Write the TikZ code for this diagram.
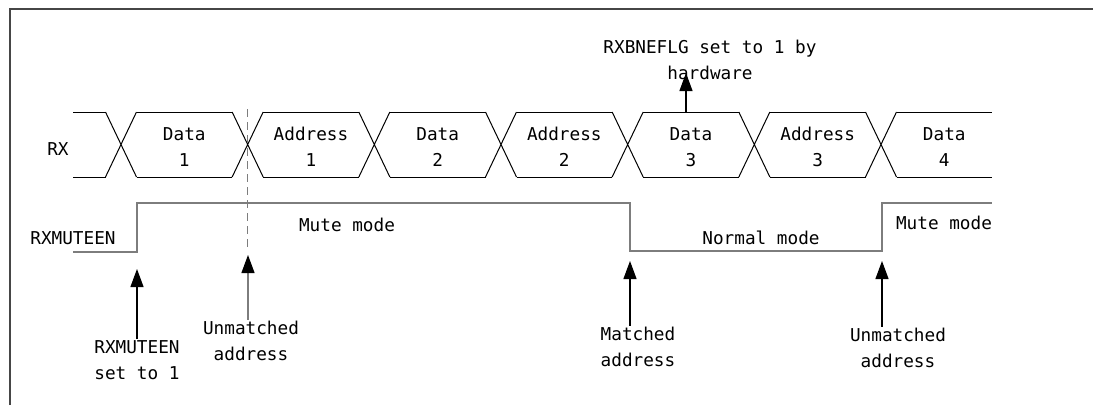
\documentclass[tikz,border=0pt]{standalone}
\usepackage{fontspec}
\setmainfont{DejaVu Sans Mono}
\usepackage{tikz}
\usetikzlibrary{arrows.meta}
\definecolor{framegray}{RGB}{70,70,70}
\definecolor{siggray} {RGB}{125,125,125}

\tikzset{
  lbl/.style={inner sep=1pt, align=center, font=\fontsize{17.7}{26}\selectfont},
  busline/.style={line width=1pt, black},
  muteline/.style={line width=1.5pt, siggray},
  upmark/.style={line width=1.2pt, -{Triangle[length=18pt,width=13pt,color=black]}},
}

\begin{document}
\begin{tikzpicture}[x=1pt,y=-1pt]
    \useasboundingbox (0,0) rectangle (1093,405);
    \draw[framegray, line width=2pt] (10,405) -- (10,9) -- (1093,9);

    % RX bus
    \foreach \k in {0,...,6}{
      \pgfmathsetmacro\c{121+126.667*\k}
      \draw[busline] (\c-15.5,112) -- (\c+15.5,177) (\c-15.5,177) -- (\c+15.5,112);
    }
    \foreach \k in {0,...,5}{
      \pgfmathsetmacro\c{121+126.667*\k}
      \draw[busline] (\c+15.5,112) -- (\c+111.167,112) (\c+15.5,177) -- (\c+111.167,177);
    }
    \draw[busline] (73,112) -- (105.5,112) (73,177) -- (105.5,177)
                   (896.5,112) -- (992,112) (896.5,177) -- (992,177);
    \node[lbl] (rx) at (58,149) {RX};
    \foreach \n/\x/\t/\i in {dat1/184.3/Data/1, adr1/311/Address/1, dat2/437.7/Data/2,
                             adr2/564.3/Address/2, dat3/691/Data/3, adr3/817.7/Address/3,
                             dat4/944.3/Data/4}
      \node[lbl] (\n) at (\x,147) {\t\\\i};

    \node[lbl] (flglbl) at (710,60) {RXBNEFLG set to 1 by\\hardware};
    \coordinate (flgbase) at (686,112);
    \coordinate (flgtip) at (686,73);
    \draw[upmark] (flgbase) -- (flgtip);

    % RXMUTEEN
    \draw[siggray, line width=1.2pt, dash pattern=on 8pt off 5pt] (247.67,109) -- (247.67,250);
    \draw[muteline] (73,252) -- (137,252) -- (137,203) -- (630,203) -- (630,251)
                    -- (882,251) -- (882,203) -- (992,203);
    \node[lbl] (mutelbl) at (73,238) {RXMUTEEN};
    \node[lbl] (mute1) at (347,225) {Mute mode};
    \node[lbl] (normal) at (761,238) {Normal mode};
    \node[lbl] (mute2) at (944,223) {Mute mode};

    \coordinate (tipset) at (137,269);
    \coordinate (tipunm1) at (248,255);
    \coordinate (tipmat) at (630,261);
    \coordinate (tipunm2) at (882,261);
    \node[lbl] (setlbl) at (137,360) {RXMUTEEN\\set to 1};
    \node[lbl] (unm1) at (251,341) {Unmatched\\address};
    \node[lbl] (mat) at (638,347) {Matched\\address};
    \node[lbl] (unm2) at (898,348) {Unmatched\\address};
    \draw[upmark] (setlbl.north) -- (tipset);
    \draw[upmark, draw=siggray] (unm1.north -| tipunm1) -- (tipunm1);
    \draw[upmark] (mat.north -| tipmat) -- (tipmat);
    \draw[upmark] (unm2.north -| tipunm2) -- (tipunm2);
\end{tikzpicture}
\end{document}
